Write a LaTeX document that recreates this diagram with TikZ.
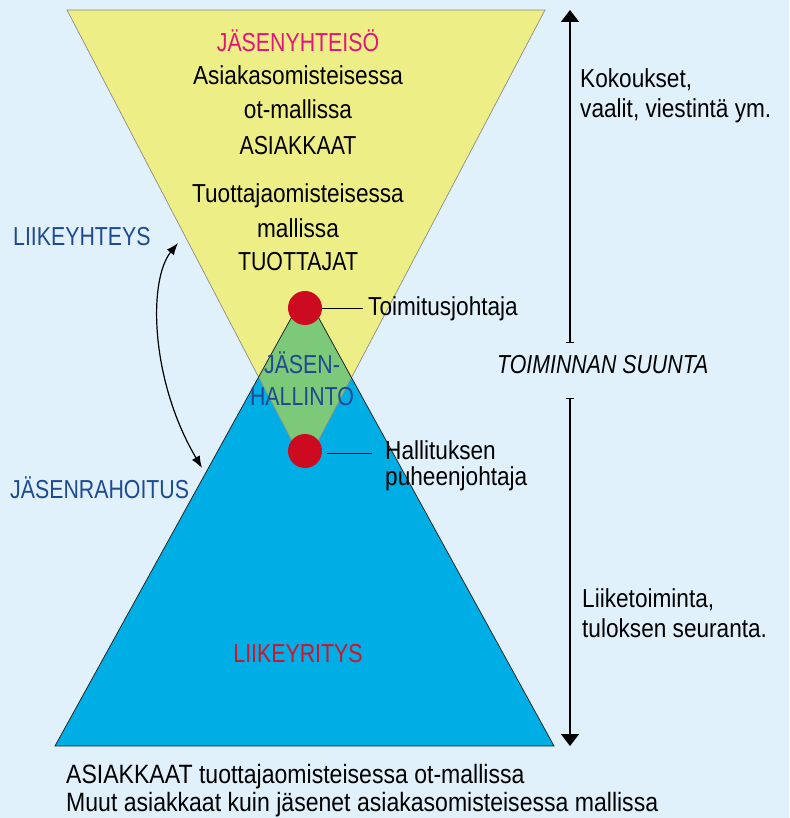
\documentclass[tikz,border=0pt]{standalone}
\usepackage{fontspec}
\setmainfont{Liberation Sans}[FakeStretch=0.87]
\newfontfamily\capsfont{Liberation Sans}[FakeStretch=0.82]
\usetikzlibrary{arrows.meta}
\definecolor{bgc}{HTML}{E0F1FB}
\definecolor{yellowc}{HTML}{EEEE86}
\definecolor{bluec}{HTML}{00AEE6}
\definecolor{greenc}{HTML}{7CC97A}
\definecolor{redc}{HTML}{CC0A20}
\definecolor{darkbluec}{HTML}{1E4A92}
\definecolor{magentac}{HTML}{E3157C}
\definecolor{liikered}{HTML}{D0142C}
\begin{document}
\begin{tikzpicture}[x=1pt,y=-1pt,
  txt/.style={font=\fontsize{26}{30}\selectfont, inner sep=0pt},
  ctxt/.style={font=\fontsize{26}{30}\selectfont\capsfont, inner sep=0pt},
  btxt/.style={font=\fontsize{26.5}{30}\selectfont, inner sep=0pt},
  dot/.style={circle, fill=redc, minimum size=34pt, inner sep=0pt},
  pointer/.style={line width=1pt},
  flow/.style={line width=1.5pt, {Bar[width=8pt,line width=1pt]}-{Triangle[width=18pt,length=12pt]}},
  swap/.style={line width=1.2pt, {Latex[length=12pt,width=9pt]}-{Latex[length=12pt,width=9pt]}}]
\useasboundingbox (0,0) rectangle (789,818);
\fill[bgc] (0,0) rectangle (789,818);
% triangles
\coordinate (yl) at (67,10);
\coordinate (yr) at (545,10);
\coordinate (ya) at (305,466);
\coordinate (ba) at (305,293);
\coordinate (br) at (554,746);
\coordinate (bl) at (55,746);
\fill[yellowc] (yl) -- (yr) -- (ya) -- cycle;
\fill[bluec] (ba) -- (br) -- (bl) -- cycle;
\begin{scope}
  \clip (yl) -- (yr) -- (ya) -- cycle;
  \fill[greenc] (ba) -- (br) -- (bl) -- cycle;
\end{scope}
\draw[black!45, line width=0.7pt] (yl) -- (yr) -- (ya) -- cycle;
\draw[black!85, line width=0.8pt] (ba) -- (br) -- (bl) -- cycle;
% yellow texts
\node[ctxt, text=magentac, anchor=base] (jy) at (298,52) {JÄSENYHTEISÖ};
\node[txt, anchor=base] (y1) at (298,85) {Asiakasomisteisessa};
\node[txt, anchor=base] (y2) at (298,119) {ot-mallissa};
\node[ctxt, anchor=base] (y3) at (298,155) {ASIAKKAAT};
\node[txt, anchor=base] (y4) at (298,203) {Tuottajaomisteisessa};
\node[txt, anchor=base] (y5) at (298,237) {mallissa};
\node[ctxt, anchor=base] (y6) at (298,270) {TUOTTAJAT};
% middle
\node[ctxt, text=darkbluec, anchor=base] (jh1) at (302,373) {JÄSEN-};
\node[ctxt, text=darkbluec, anchor=base] (jh2) at (302,405) {HALLINTO};
\node[dot] (c1) at (305,308) {};
\node[dot] (c2) at (305,451) {};
\node[txt, anchor=base west] (tj) at (368,315) {Toimitusjohtaja};
\node[txt, anchor=base west] (hp1) at (385,459) {Hallituksen};
\node[txt, anchor=base west] (hp2) at (385,485) {puheenjohtaja};
\draw[pointer] (c1.east) -- ([xshift=-5pt]tj.west |- c1.east);
\draw[pointer] ([xshift=5pt]c2.east |- 0,453) -- ([xshift=-13pt]hp1.west |- 0,453);
% blue text
\node[ctxt, text=liikered, anchor=base] (ly) at (298,662) {LIIKEYRITYS};
% left labels
\node[ctxt, text=darkbluec, anchor=base west] (lh) at (13,245) {LIIKEYHTEYS};
\node[ctxt, text=darkbluec, anchor=base west] (jr) at (10,498) {JÄSENRAHOITUS};
\coordinate (ct) at (178,243);
\coordinate (cb) at (202,468);
\draw[swap] (ct) .. controls (148,280) and (150,380) .. (cb);
% right side
\coordinate (a1t) at (570,10);
\coordinate (a1b) at (570,343);
\coordinate (a2t) at (570,398);
\coordinate (a2b) at (570,746);
\draw[flow] (a1b) -- (a1t);
\draw[flow] (a2t) -- (a2b);
\node[txt, anchor=base west] (k1) at (580,88) {Kokoukset,};
\node[txt, anchor=base west] (k2) at (580,118) {vaalit, viestintä ym.};
\node[ctxt, anchor=base west, font=\fontsize{26}{30}\selectfont\capsfont\itshape] (ts) at (497,373) {TOIMINNAN SUUNTA};
\node[txt, anchor=base west] (l1) at (582,607) {Liiketoiminta,};
\node[txt, anchor=base west] (l2) at (582,637) {tuloksen seuranta.};
% bottom
\node[btxt, anchor=base west] (b1) at (66,783) {ASIAKKAAT tuottajaomisteisessa ot-mallissa};
\node[btxt, anchor=base west] (b2) at (66,811) {Muut asiakkaat kuin jäsenet asiakasomisteisessa mallissa};
\end{tikzpicture}
\end{document}
